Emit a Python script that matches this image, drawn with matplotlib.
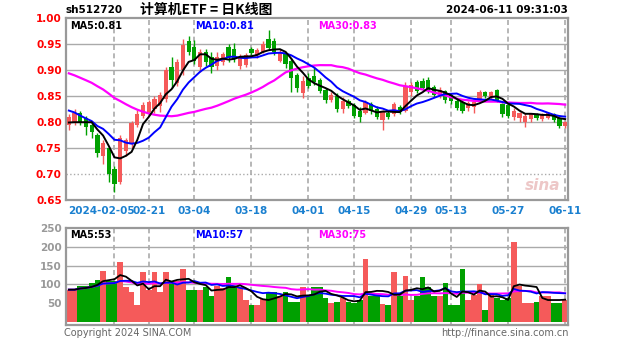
import numpy as np
import pandas as pd
import matplotlib
matplotlib.use('Agg')
import matplotlib.pyplot as plt
import matplotlib.transforms as mtransforms

plt.rcParams['font.family'] = ['DejaVu Sans', 'Noto Sans CJK SC']

# trading days (A-share calendar, holidays removed)
holidays = ['2024-02-09', '2024-02-12', '2024-02-13', '2024-02-14', '2024-02-15',
            '2024-02-16', '2024-04-04', '2024-04-05', '2024-05-01', '2024-05-02',
            '2024-05-03', '2024-06-10']
dates = pd.bdate_range('2024-01-24', '2024-06-11')
dates = dates[~dates.isin(pd.to_datetime(holidays))]

# closes before the visible window (only used for the moving averages)
pre_close = [0.935, 0.940, 0.932, 0.928, 0.938, 0.945, 0.940, 0.935, 0.942, 0.950,
             0.968, 0.960, 0.950, 0.935, 0.920, 0.905, 0.915, 0.900, 0.880, 0.870,
             0.855, 0.860, 0.845, 0.830, 0.835, 0.815, 0.800, 0.790, 0.780]

open_ = [0.795, 0.800, 0.818, 0.808, 0.795, 0.775, 0.735, 0.750, 0.710, 0.685,
         0.745, 0.758, 0.795, 0.812, 0.820, 0.825, 0.830, 0.845, 0.905, 0.875,
         0.900, 0.955, 0.945, 0.905, 0.935, 0.925, 0.908, 0.915, 0.945, 0.940,
         0.908, 0.910, 0.940, 0.928, 0.935, 0.960, 0.955, 0.918, 0.930, 0.918,
         0.890, 0.855, 0.885, 0.888, 0.880, 0.862, 0.842, 0.850, 0.825, 0.840,
         0.832, 0.822, 0.818, 0.835, 0.825, 0.803, 0.818, 0.815, 0.828, 0.822,
         0.858, 0.876, 0.878, 0.880, 0.868, 0.852, 0.860, 0.852, 0.840, 0.838,
         0.826, 0.828, 0.842, 0.858, 0.848, 0.862, 0.835, 0.832, 0.810, 0.808,
         0.800, 0.806, 0.815, 0.805, 0.808, 0.815, 0.808, 0.792]
high = [0.815, 0.825, 0.822, 0.812, 0.800, 0.778, 0.765, 0.752, 0.715, 0.775,
        0.770, 0.802, 0.823, 0.838, 0.842, 0.850, 0.858, 0.905, 0.925, 0.922,
        0.960, 0.965, 0.958, 0.940, 0.940, 0.935, 0.935, 0.935, 0.950, 0.952,
        0.930, 0.932, 0.945, 0.942, 0.955, 0.977, 0.962, 0.940, 0.933, 0.923,
        0.895, 0.888, 0.895, 0.906, 0.885, 0.865, 0.858, 0.856, 0.848, 0.845,
        0.837, 0.828, 0.842, 0.838, 0.830, 0.823, 0.823, 0.838, 0.832, 0.877,
        0.876, 0.880, 0.884, 0.886, 0.872, 0.867, 0.862, 0.856, 0.846, 0.842,
        0.840, 0.842, 0.862, 0.860, 0.860, 0.864, 0.837, 0.835, 0.827, 0.820,
        0.817, 0.818, 0.818, 0.818, 0.820, 0.817, 0.810, 0.802]
low = [0.785, 0.795, 0.795, 0.775, 0.770, 0.732, 0.720, 0.685, 0.665, 0.680,
       0.735, 0.750, 0.790, 0.808, 0.815, 0.818, 0.820, 0.838, 0.865, 0.870,
       0.890, 0.928, 0.912, 0.896, 0.908, 0.895, 0.900, 0.910, 0.915, 0.915,
       0.902, 0.905, 0.928, 0.924, 0.932, 0.938, 0.928, 0.915, 0.904, 0.858,
       0.858, 0.846, 0.866, 0.872, 0.856, 0.837, 0.838, 0.820, 0.818, 0.826,
       0.808, 0.800, 0.815, 0.815, 0.806, 0.785, 0.806, 0.812, 0.815, 0.820,
       0.850, 0.856, 0.862, 0.856, 0.848, 0.846, 0.837, 0.835, 0.823, 0.817,
       0.822, 0.817, 0.838, 0.846, 0.845, 0.838, 0.810, 0.808, 0.804, 0.800,
       0.790, 0.800, 0.804, 0.802, 0.806, 0.800, 0.788, 0.788]
close = [0.810, 0.818, 0.800, 0.790, 0.780, 0.740, 0.760, 0.700, 0.680, 0.770,
         0.765, 0.798, 0.815, 0.832, 0.838, 0.845, 0.852, 0.900, 0.880, 0.915,
         0.948, 0.935, 0.918, 0.935, 0.915, 0.905, 0.925, 0.930, 0.925, 0.922,
         0.925, 0.928, 0.932, 0.938, 0.950, 0.942, 0.935, 0.935, 0.912, 0.885,
         0.865, 0.878, 0.870, 0.876, 0.860, 0.842, 0.852, 0.825, 0.840, 0.830,
         0.812, 0.810, 0.838, 0.822, 0.810, 0.820, 0.810, 0.835, 0.820, 0.868,
         0.872, 0.860, 0.866, 0.860, 0.852, 0.862, 0.842, 0.840, 0.826, 0.822,
         0.836, 0.838, 0.858, 0.850, 0.858, 0.842, 0.815, 0.812, 0.822, 0.818,
         0.812, 0.815, 0.808, 0.815, 0.818, 0.803, 0.792, 0.800]
volume = [86, 86, 95, 95, 105, 113, 135, 108, 108, 160,
          92, 80, 46, 132, 86, 132, 80, 132, 108, 108,
          140, 86, 86, 86, 92, 68, 95, 90, 119, 92,
          92, 59, 46, 46, 60, 81, 81, 70, 81, 54,
          54, 92, 73, 92, 92, 65, 51, 54, 65, 54,
          51, 59, 168, 68, 68, 49, 46, 132, 68, 122,
          59, 68, 119, 92, 68, 68, 105, 46, 46, 140,
          59, 73, 100, 32, 73, 65, 59, 65, 214, 95,
          51, 51, 54, 68, 68, 51, 51, 59]

tick_dates = ['2024-02-05', '2024-02-21', '2024-03-04', '2024-03-18', '2024-04-01',
              '2024-04-15', '2024-04-29', '2024-05-13', '2024-05-27', '2024-06-11']
tick_labels = ['2024-02-05', '02-21', '03-04', '03-18', '04-01',
               '04-15', '04-29', '05-13', '05-27', '06-11']

price_ticks = [0.65, 0.70, 0.75, 0.80, 0.85, 0.90, 0.95, 1.00]
vol_ticks = [50, 100, 150, 200, 250]

RED = '#f55a5a'
GREEN = '#00a000'
GRID = '#aaaaaa'

n = len(close)
x = np.arange(n)
o = np.array(open_)
c = np.array(close)
colors = [RED if c[i] >= o[i] else GREEN for i in range(n)]

all_close = pd.Series(pre_close + close)
ma5 = all_close.rolling(5).mean().values[-n:]
ma10 = all_close.rolling(10).mean().values[-n:]
ma30 = all_close.rolling(30).mean().values[-n:]
vs = pd.Series(volume)
vma5 = vs.rolling(5, min_periods=1).mean().values
vma10 = vs.rolling(10, min_periods=1).mean().values
vma30 = vs.rolling(30, min_periods=1).mean().values

tick_idx = [list(dates.strftime('%Y-%m-%d')).index(d) for d in tick_dates]

W, H = 627, 342
fig = plt.figure(figsize=(W / 100, H / 100), dpi=100)
fig.patch.set_facecolor('white')


def fx(px):
    return px / W


def fy(py):
    return 1 - py / H


ax = fig.add_axes([fx(66), fy(200), fx(568) - fx(66), fy(18) - fy(200)])
axv = fig.add_axes([fx(66), fy(325), fx(568) - fx(66), fy(228) - fy(325)])

# price panel
for y in price_ticks[1:-1]:
    ax.axhline(y, color=GRID, lw=1.0, ls=':' if y == 0.70 else '-', zorder=0)
for i in tick_idx:
    ax.axvline(i, color=GRID, lw=1.2, ls=(0, (3, 2)), zorder=0)

ax.vlines(x, low, high, colors=colors, lw=1.0, zorder=2)
body = np.maximum(np.abs(c - o), 0.0015)
ax.bar(x, body, bottom=np.minimum(o, c), width=0.75, color=colors, zorder=3)
ax.plot(x, ma30, color='#ff00ff', lw=1.6, zorder=4)
ax.plot(x, ma10, color='#0000ff', lw=1.4, zorder=4)
ax.plot(x, ma5, color='black', lw=1.4, zorder=5)

ax.set_xlim(-0.5, n - 0.5)
ax.set_ylim(0.65, 1.00)
ax.set_xticks([])
ax.set_yticks(price_ticks)
ax.set_yticklabels(['%.2f' % v for v in price_ticks], color='red',
                   fontsize=7.5, fontweight='bold')
ax.tick_params(axis='y', length=0, pad=3)
for s in ax.spines.values():
    s.set_color('#999999')
    s.set_linewidth(1.6)

trans = mtransforms.blended_transform_factory(ax.transData, ax.transAxes)
for k, (i, lab) in enumerate(zip(tick_idx, tick_labels)):
    if k == 0:
        # long first label sits just left of the next one
        ax.text(tick_idx[1] - 2.4, -0.062, lab, transform=trans, ha='right',
                va='center', color='#1a80d0', fontsize=7.5, fontweight='bold')
    else:
        ax.text(i, -0.062, lab, transform=trans, ha='center', va='center',
                color='#1a80d0', fontsize=7.5, fontweight='bold')

ax.text(0.985, 0.08, 'sina', transform=ax.transAxes, ha='right', va='center',
        color='#e6b0b0', fontsize=11, fontweight='bold', style='italic', alpha=0.7)

# volume panel
for y in [100, 150, 200]:
    axv.axhline(y, color=GRID, lw=1.0, zorder=0)
for i in tick_idx:
    axv.axvline(i, color=GRID, lw=1.2, ls=(0, (3, 2)), zorder=0)
axv.bar(x, volume, width=1.0, color=colors, zorder=2)
axv.plot(x, vma30, color='#ff00ff', lw=1.4, zorder=4)
axv.plot(x, vma10, color='#0000ff', lw=1.3, zorder=4)
axv.plot(x, vma5, color='black', lw=1.3, zorder=5)
axv.set_xlim(-0.5, n - 0.5)
axv.set_ylim(-8, 250)
axv.set_xticks([])
axv.set_yticks(vol_ticks)
axv.set_yticklabels([str(v) for v in vol_ticks], color='#999999',
                    fontsize=7.5, fontweight='bold')
axv.tick_params(axis='y', length=0, pad=3)
for s in axv.spines.values():
    s.set_color('#999999')
    s.set_linewidth(1.6)

# header and legends
fig.text(fx(66), fy(10), 'sh512720', ha='left', va='center', fontsize=7.5,
         fontweight='bold', color='black')
fig.text(fx(206), fy(10), '计算机ETF = 日K线图', ha='center', va='center',
         fontsize=10, fontweight='bold', color='black',
         family=['Noto Sans CJK SC', 'DejaVu Sans'])
fig.text(fx(568), fy(10), '2024-06-11 09:31:03', ha='right', va='center',
         fontsize=7.5, fontweight='bold', color='black')

fig.text(fx(70), fy(26), 'MA5:0.81', ha='left', va='center', fontsize=7,
         fontweight='bold', color='black')
fig.text(fx(195), fy(26), 'MA10:0.81', ha='left', va='center', fontsize=7,
         fontweight='bold', color='#0000ff')
fig.text(fx(318), fy(26), 'MA30:0.83', ha='left', va='center', fontsize=7,
         fontweight='bold', color='#ff00ff')

fig.text(fx(70), fy(235), 'MA5:53', ha='left', va='center', fontsize=7,
         fontweight='bold', color='black')
fig.text(fx(195), fy(235), 'MA10:57', ha='left', va='center', fontsize=7,
         fontweight='bold', color='#0000ff')
fig.text(fx(318), fy(235), 'MA30:75', ha='left', va='center', fontsize=7,
         fontweight='bold', color='#ff00ff')

fig.text(fx(64), fy(333), 'Copyright 2024 SINA.COM', ha='left', va='center',
         fontsize=7, color='#666666')
fig.text(fx(569), fy(333), 'http://finance.sina.com.cn', ha='right', va='center',
         fontsize=7, color='#666666')

fig.savefig('out.png', dpi=100, facecolor='white')
